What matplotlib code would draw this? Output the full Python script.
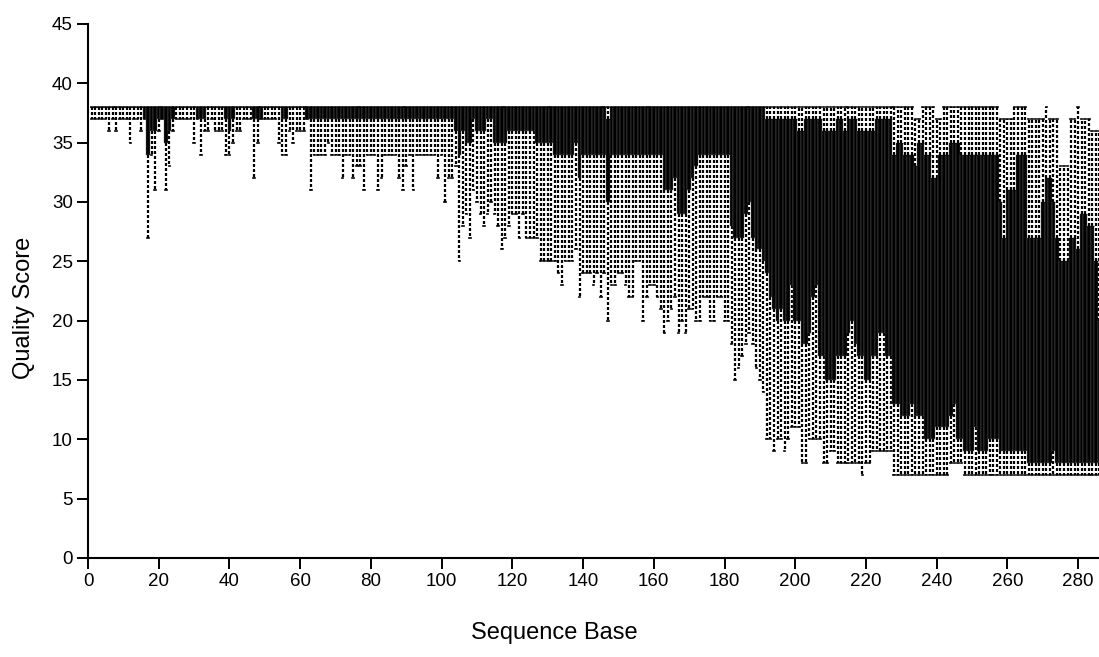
import matplotlib
matplotlib.use("Agg")
import matplotlib.pyplot as plt

# ------------------------------------------------------------
# Per-base quality boxplot
# ------------------------------------------------------------
positions = list(range(1, 287))

whislo = [
    37, 37, 37, 37, 37, 36, 37, 36, 37, 37,
    37, 35, 37, 37, 36, 37, 27, 34, 31, 36,
    37, 31, 33, 36, 37, 37, 37, 37, 37, 35,
    37, 34, 36, 36, 37, 36, 36, 36, 34, 34,
    35, 36, 36, 37, 37, 37, 32, 35, 37, 37,
    37, 37, 37, 35, 34, 34, 36, 35, 36, 36,
    36, 37, 31, 34, 34, 34, 34, 35, 34, 34,
    34, 32, 34, 34, 32, 33, 33, 31, 34, 34,
    34, 31, 32, 34, 34, 34, 34, 32, 31, 33,
    34, 31, 34, 34, 34, 34, 34, 34, 32, 34,
    30, 32, 32, 33, 25, 28, 29, 27, 31, 30,
    29, 28, 29, 30, 29, 28, 26, 27, 28, 29,
    29, 27, 29, 27, 27, 27, 27, 25, 25, 25,
    25, 25, 24, 23, 25, 25, 25, 26, 22, 24,
    24, 24, 23, 24, 22, 24, 20, 23, 23, 24,
    24, 23, 22, 22, 25, 25, 20, 22, 23, 23,
    22, 21, 19, 20, 21, 22, 19, 20, 19, 21,
    21, 20, 20, 22, 22, 20, 20, 22, 22, 20,
    20, 18, 15, 16, 17, 18, 19, 18, 16, 15,
    14, 10, 10, 9, 10, 10, 9, 10, 11, 11,
    11, 8, 8, 10, 10, 10, 10, 8, 8, 9,
    9, 8, 8, 8, 8, 8, 8, 8, 7, 8,
    8, 9, 9, 9, 9, 9, 9, 7, 7, 7,
    7, 7, 7, 7, 7, 7, 7, 7, 7, 7,
    7, 7, 7, 8, 8, 8, 8, 7, 7, 7,
    7, 7, 7, 7, 7, 7, 7, 7, 7, 7,
    7, 7, 7, 7, 7, 7, 7, 7, 7, 7,
    7, 7, 7, 7, 7, 7, 7, 7, 7, 7,
    7, 7, 7, 7, 7, 7,
]

q1 = [
    38, 38, 38, 38, 38, 38, 38, 38, 38, 38,
    38, 38, 38, 38, 38, 37, 34, 36, 36, 37,
    37, 35, 36, 37, 38, 38, 38, 38, 38, 38,
    37, 37, 37, 38, 38, 38, 38, 38, 37, 36,
    37, 38, 38, 38, 38, 38, 37, 37, 37, 38,
    38, 38, 38, 38, 37, 37, 38, 38, 38, 38,
    38, 37, 37, 37, 37, 37, 37, 37, 37, 37,
    37, 37, 37, 37, 37, 37, 37, 37, 37, 37,
    37, 37, 37, 37, 37, 37, 37, 37, 37, 37,
    37, 37, 37, 37, 37, 37, 37, 37, 37, 37,
    37, 37, 37, 36, 34, 36, 35, 35, 37, 36,
    36, 36, 37, 37, 35, 35, 35, 35, 36, 36,
    36, 36, 36, 36, 36, 36, 35, 35, 35, 35,
    35, 34, 34, 34, 34, 34, 34, 35, 32, 34,
    34, 34, 34, 34, 34, 34, 30, 34, 34, 34,
    34, 34, 34, 34, 34, 34, 34, 34, 34, 34,
    34, 34, 31, 31, 31, 32, 29, 29, 29, 31,
    32, 33, 34, 34, 34, 34, 34, 34, 34, 34,
    34, 28, 27, 27, 27, 29, 30, 27, 26, 26,
    25, 24, 22, 21, 20, 21, 20, 20, 23, 20,
    20, 18, 18, 19, 22, 23, 17, 17, 15, 15,
    15, 17, 17, 17, 19, 20, 18, 17, 17, 15,
    15, 17, 17, 19, 19, 17, 17, 13, 13, 12,
    12, 12, 13, 12, 12, 12, 10, 10, 10, 11,
    11, 11, 11, 12, 13, 10, 10, 9, 9, 9,
    11, 9, 9, 9, 10, 10, 10, 9, 9, 9,
    9, 9, 9, 9, 9, 8, 8, 8, 8, 8,
    8, 8, 9, 8, 8, 8, 8, 8, 8, 8,
    8, 8, 8, 8, 8, 8,
]

q3 = [
    38, 38, 38, 38, 38, 38, 38, 38, 38, 38,
    38, 38, 38, 38, 38, 38, 38, 38, 38, 38,
    38, 38, 38, 38, 38, 38, 38, 38, 38, 38,
    38, 38, 38, 38, 38, 38, 38, 38, 38, 38,
    38, 38, 38, 38, 38, 38, 38, 38, 38, 38,
    38, 38, 38, 38, 38, 38, 38, 38, 38, 38,
    38, 38, 38, 38, 38, 38, 38, 38, 38, 38,
    38, 38, 38, 38, 38, 38, 38, 38, 38, 38,
    38, 38, 38, 38, 38, 38, 38, 38, 38, 38,
    38, 38, 38, 38, 38, 38, 38, 38, 38, 38,
    38, 38, 38, 38, 38, 38, 38, 38, 38, 38,
    38, 38, 38, 38, 38, 38, 38, 38, 38, 38,
    38, 38, 38, 38, 38, 38, 38, 38, 38, 38,
    38, 38, 38, 38, 38, 38, 38, 38, 38, 38,
    38, 38, 38, 38, 38, 38, 37, 38, 38, 38,
    38, 38, 38, 38, 38, 38, 38, 38, 38, 38,
    38, 38, 38, 38, 38, 38, 38, 38, 38, 38,
    38, 38, 38, 38, 38, 38, 38, 38, 38, 38,
    38, 38, 38, 38, 38, 38, 38, 38, 38, 38,
    38, 37, 37, 37, 37, 37, 37, 37, 37, 37,
    36, 36, 37, 37, 37, 37, 37, 36, 36, 36,
    36, 37, 37, 36, 37, 37, 37, 36, 36, 36,
    36, 36, 37, 37, 37, 37, 37, 34, 35, 35,
    34, 34, 34, 33, 35, 35, 34, 34, 32, 32,
    34, 34, 34, 35, 35, 35, 34, 34, 34, 34,
    34, 34, 34, 34, 34, 34, 34, 30, 27, 31,
    31, 31, 34, 34, 34, 27, 27, 27, 27, 30,
    32, 32, 30, 27, 25, 25, 25, 27, 27, 26,
    29, 29, 28, 28, 25, 20,
]

whishi = [
    38, 38, 38, 38, 38, 38, 38, 38, 38, 38,
    38, 38, 38, 38, 38, 38, 38, 38, 38, 38,
    38, 38, 38, 38, 38, 38, 38, 38, 38, 38,
    38, 38, 38, 38, 38, 38, 38, 38, 38, 38,
    38, 38, 38, 38, 38, 38, 38, 38, 38, 38,
    38, 38, 38, 38, 38, 38, 38, 38, 38, 38,
    38, 38, 38, 38, 38, 38, 38, 38, 38, 38,
    38, 38, 38, 38, 38, 38, 38, 38, 38, 38,
    38, 38, 38, 38, 38, 38, 38, 38, 38, 38,
    38, 38, 38, 38, 38, 38, 38, 38, 38, 38,
    38, 38, 38, 38, 38, 38, 38, 38, 38, 38,
    38, 38, 38, 38, 38, 38, 38, 38, 38, 38,
    38, 38, 38, 38, 38, 38, 38, 38, 38, 38,
    38, 38, 38, 38, 38, 38, 38, 38, 38, 38,
    38, 38, 38, 38, 38, 38, 38, 38, 38, 38,
    38, 38, 38, 38, 38, 38, 38, 38, 38, 38,
    38, 38, 38, 38, 38, 38, 38, 38, 38, 38,
    38, 38, 38, 38, 38, 38, 38, 38, 38, 38,
    38, 38, 38, 38, 38, 38, 38, 38, 38, 38,
    38, 38, 38, 38, 38, 38, 38, 38, 38, 38,
    38, 38, 38, 38, 38, 38, 38, 38, 38, 38,
    38, 38, 38, 38, 38, 38, 38, 38, 38, 38,
    38, 38, 38, 38, 38, 38, 38, 38, 38, 38,
    38, 38, 38, 37, 37, 38, 38, 38, 38, 37,
    37, 38, 38, 38, 38, 38, 38, 38, 38, 38,
    38, 38, 38, 38, 38, 38, 38, 37, 37, 37,
    37, 38, 38, 38, 38, 37, 37, 37, 37, 37,
    38, 37, 37, 37, 33, 33, 33, 37, 37, 38,
    37, 37, 37, 36, 36, 36,
]

x_ticks = list(range(0, 281, 20))
y_ticks = list(range(0, 46, 5))

# -----------------------------
# Style
# -----------------------------
plt.rcParams.update({
    "font.family": ["Liberation Sans", "DejaVu Sans"],
    "font.size": 13.5,
    "axes.linewidth": 1.5,
})

stats = []
for lo, a, b, hi in zip(whislo, q1, q3, whishi):
    stats.append({"whislo": lo, "q1": a, "med": b, "q3": b, "whishi": hi, "fliers": []})

fig = plt.figure(figsize=(10.99, 6.57), dpi=100)
ax = fig.add_axes([88 / 1099, 99 / 657, 1011 / 1099, 534 / 657])

ax.bxp(
    stats,
    positions=positions,
    widths=1.0,
    patch_artist=True,
    showfliers=False,
    manage_ticks=False,
    capwidths=0.45,
    boxprops=dict(facecolor="black", edgecolor="0.4", linewidth=0.3),
    whiskerprops=dict(color="black", linestyle=(0, (1.35, 0.9)), linewidth=1.6),
    capprops=dict(color="black", linewidth=1.2),
    medianprops=dict(color="black", linewidth=0.5),
)

ax.set_xlim(0, 285.9)
ax.set_ylim(0, 45)
ax.set_xticks(x_ticks)
ax.set_yticks(y_ticks)
ax.tick_params(direction="out", length=8, width=1.4, labelsize=13.5, pad=3)

for side in ("top", "right"):
    ax.spines[side].set_visible(False)

ax.set_xlabel("Sequence Base", fontsize=17)
ax.set_ylabel("Quality Score", fontsize=17)
ax.xaxis.set_label_coords(0.461, -0.12)
ax.yaxis.set_label_coords(-0.052, 0.468)

fig.savefig("out.png", dpi=100)
